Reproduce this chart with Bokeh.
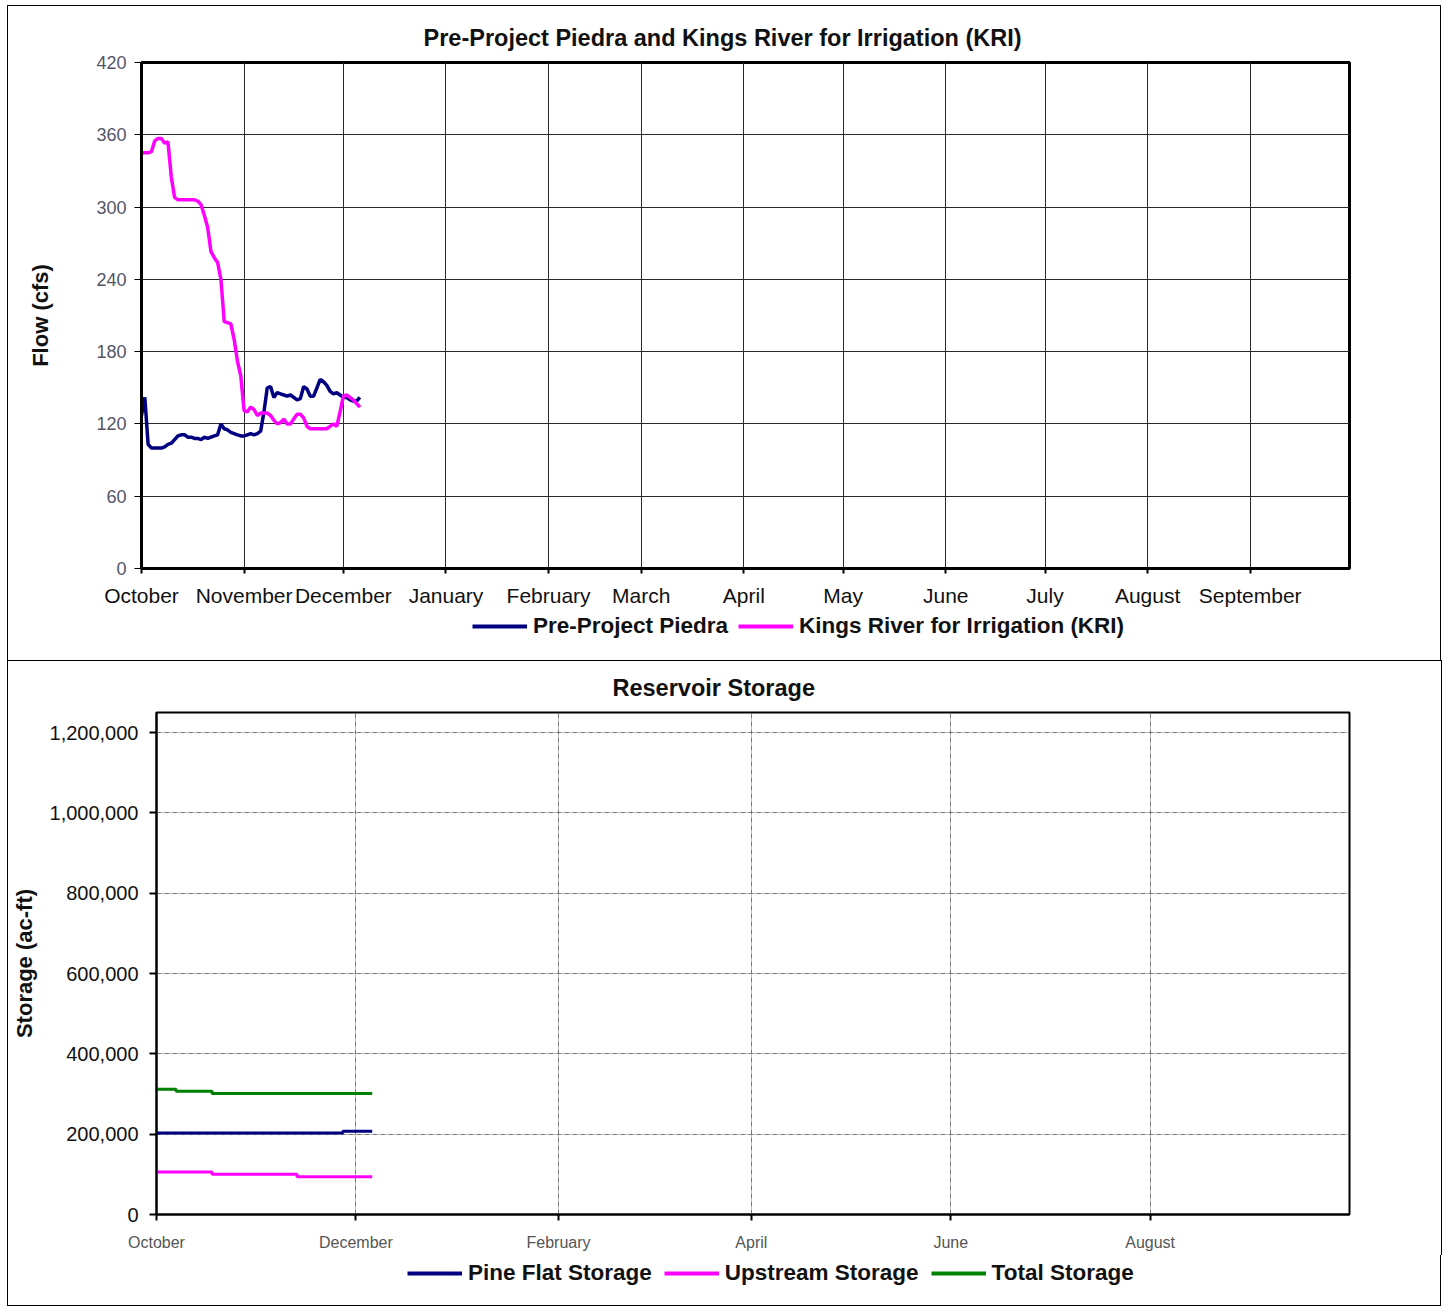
from bokeh.plotting import figure
from bokeh.models import Range1d, FixedTicker, Legend, LegendItem, NumeralTickFormatter
from bokeh.layouts import column
from bokeh.embed import file_html
from bokeh.resources import INLINE

# ---------------- data ----------------
month_names = ["October", "November", "December", "January", "February", "March",
               "April", "May", "June", "July", "August", "September"]
month_start_day = [0, 31, 61, 92, 123, 151, 182, 212, 243, 273, 304, 335]

flow_day = list(range(67))
piedra_cfs = [127, 142, 103, 100, 100, 100, 100, 101, 103, 104,
              107, 110, 111, 111, 109, 109, 108, 108, 107, 109,
              108, 109, 110, 111, 120, 116, 115, 113, 112, 111,
              110, 110, 111, 112, 111, 112, 114, 130, 150, 151,
              142, 146, 145, 144, 143, 144, 142, 140, 141, 151,
              149, 143, 143, 150, 157, 155, 152, 147, 145, 146,
              144, 142, 142, 140, 139, 139, 142]
kri_cfs = [345, 345, 345, 346, 355, 357, 357, 353, 354, 325,
           308, 306, 306, 306, 306, 306, 306, 305, 302, 293,
           283, 263, 258, 254, 240, 205, 204, 203, 190, 172,
           160, 131, 130, 134, 132, 127, 129, 129, 129, 127,
           123, 120, 121, 124, 120, 120, 124, 128, 128, 125,
           118, 116, 116, 116, 116, 116, 116, 118, 120, 118,
           130, 143, 144, 142, 140, 137, 134]

# storage: day on which each value starts, and the value (ac-ft)
pine_flat_day = [0, 57, 66]
pine_flat_af = [203000, 207000, 207000]
upstream_day = [0, 17, 43, 66]
upstream_af = [106000, 100000, 94000, 94000]
total_day = [0, 6, 17, 66]
total_af = [312000, 307000, 301000, 301000]

storage_tick_months = ["October", "December", "February", "April", "June", "August"]

NAVY = "#000080"
MAGENTA = "#FF00FF"
GREEN = "#008000"
FONT = "Liberation Sans"
BORDER = "1px solid black"
NAN = float("nan")


def legend_strip(height, items, loc, spacing, styles):
    """A small axis-less figure that only carries a horizontal legend."""
    lf = figure(frame_width=1432, frame_height=height, output_backend="svg",
                toolbar_location=None, x_axis_type=None, y_axis_type=None,
                x_range=Range1d(0, 1), y_range=Range1d(0, 1),
                min_border=0, min_border_left=0, min_border_right=0,
                min_border_top=0, min_border_bottom=0)
    lf.frame_align = False
    lf.outline_line_color = None
    lf.xgrid.visible = False
    lf.ygrid.visible = False
    leg_items = []
    for label, color in items:
        # one empty (NaN) row so the legend swatch gets its colour; nothing is drawn
        r = lf.line([NAN], [NAN], line_color=color, line_width=4)
        leg_items.append(LegendItem(label=label, renderers=[r]))
    leg = Legend(items=leg_items, orientation="horizontal", location=loc,
                 label_text_font=FONT, label_text_font_style="bold",
                 label_text_font_size="22.5px", label_text_color="#111111",
                 glyph_width=55, glyph_height=22, label_height=22,
                 label_standoff=6, spacing=spacing, padding=0, margin=0,
                 background_fill_alpha=0, border_line_color=None)
    lf.add_layout(leg, "center")
    lf.styles = styles
    return lf


# ---------------- top chart ----------------
p1 = figure(frame_width=1206, frame_height=505, output_backend="svg", toolbar_location=None,
            x_range=Range1d(0, 365), y_range=Range1d(0, 420),
            min_border_left=133, min_border_right=93, min_border_top=56, min_border_bottom=43)
p1.frame_align = False
p1.title.text = "Pre-Project Piedra and Kings River for Irrigation (KRI)"
p1.title.text_font = FONT
p1.title.text_font_size = "23.5px"
p1.title.text_font_style = "bold"
p1.title.text_color = "#111111"
p1.title.align = "left"
p1.title.offset = 282
p1.title.standoff = 24

p1.outline_line_color = "black"
p1.outline_line_width = 3
p1.xaxis.ticker = FixedTicker(ticks=month_start_day)
p1.xaxis.major_label_overrides = {d: n for d, n in zip(month_start_day, month_names)}
p1.xaxis.major_label_text_font = FONT
p1.xaxis.major_label_text_font_size = "21px"
p1.xaxis.major_label_text_color = "#111111"
p1.xaxis.major_label_standoff = 10
p1.xaxis.major_tick_out = 5
p1.xaxis.major_tick_in = 0
p1.xaxis.major_tick_line_width = 2
p1.xaxis.minor_tick_line_color = None
p1.xaxis.axis_line_width = 3

p1.yaxis.ticker = FixedTicker(ticks=[0, 60, 120, 180, 240, 300, 360, 420])
p1.yaxis.major_label_text_font = FONT
p1.yaxis.major_label_text_font_size = "18px"
p1.yaxis.major_label_text_color = "#555566"
p1.yaxis.major_label_standoff = 8
p1.yaxis.major_tick_out = 7
p1.yaxis.major_tick_in = 0
p1.yaxis.minor_tick_line_color = None
p1.yaxis.axis_line_width = 3
p1.yaxis.axis_label = "Flow (cfs)"
p1.yaxis.axis_label_text_font = FONT
p1.yaxis.axis_label_text_font_size = "22px"
p1.yaxis.axis_label_text_font_style = "bold"
p1.yaxis.axis_label_text_color = "#111111"
p1.yaxis.axis_label_standoff = 40

p1.xgrid.grid_line_color = "#2a2a2a"
p1.ygrid.grid_line_color = "#2a2a2a"
p1.xgrid.grid_line_width = 1
p1.ygrid.grid_line_width = 1

p1.line(flow_day, piedra_cfs, line_color=NAVY, line_width=3.5)
p1.line(flow_day, kri_cfs, line_color=MAGENTA, line_width=3.5)
p1.styles = {"border-top": BORDER, "border-left": BORDER, "border-right": BORDER}

leg1 = legend_strip(50, [("Pre-Project Piedra", NAVY),
                         ("Kings River for Irrigation (KRI)", MAGENTA)],
                    (464, 21), 10, {"border-left": BORDER, "border-right": BORDER})

# ---------------- bottom chart ----------------
p2 = figure(frame_width=1191, frame_height=501, output_backend="svg", toolbar_location=None,
            x_range=Range1d(0, 365), y_range=Range1d(0, 1250000),
            min_border_left=147, min_border_right=94, min_border_top=51, min_border_bottom=42)
p2.frame_align = False
p2.title.text = "Reservoir Storage"
p2.title.text_font = FONT
p2.title.text_font_size = "23.5px"
p2.title.text_font_style = "bold"
p2.title.text_color = "#111111"
p2.title.align = "left"
p2.title.offset = 456
p2.title.standoff = 23

p2.outline_line_color = "black"
p2.outline_line_width = 2
tick2 = [month_start_day[month_names.index(m)] for m in storage_tick_months]
p2.xaxis.ticker = FixedTicker(ticks=tick2)
p2.xaxis.major_label_overrides = {d: n for d, n in zip(tick2, storage_tick_months)}
p2.xaxis.major_label_text_font = FONT
p2.xaxis.major_label_text_font_size = "16px"
p2.xaxis.major_label_text_color = "#555555"
p2.xaxis.major_label_standoff = 13
p2.xaxis.major_tick_out = 6
p2.xaxis.major_tick_in = 0
p2.xaxis.major_tick_line_width = 2
p2.xaxis.minor_tick_line_color = None
p2.xaxis.axis_line_width = 2

p2.yaxis.ticker = FixedTicker(ticks=[0, 200000, 400000, 600000, 800000, 1000000, 1200000])
p2.yaxis.formatter = NumeralTickFormatter(format="0,0")
p2.yaxis.major_label_text_font = FONT
p2.yaxis.major_label_text_font_size = "20px"
p2.yaxis.major_label_text_color = "#111111"
p2.yaxis.major_label_standoff = 11
p2.yaxis.major_tick_out = 7
p2.yaxis.major_tick_in = 0
p2.yaxis.major_tick_line_width = 2
p2.yaxis.minor_tick_line_color = None
p2.yaxis.axis_line_width = 2
p2.yaxis.axis_label = "Storage (ac-ft)"
p2.yaxis.axis_label_text_font = FONT
p2.yaxis.axis_label_text_font_size = "22px"
p2.yaxis.axis_label_text_font_style = "bold"
p2.yaxis.axis_label_text_color = "#111111"
p2.yaxis.axis_label_standoff = 10

for g in (p2.xgrid, p2.ygrid):
    g.grid_line_color = "#777777"
    g.grid_line_width = 1
    g.grid_line_dash = "5 1 1 1"

p2.step(pine_flat_day, pine_flat_af, mode="after", line_color=NAVY, line_width=3)
p2.step(upstream_day, upstream_af, mode="after", line_color=MAGENTA, line_width=3)
p2.step(total_day, total_af, mode="after", line_color=GREEN, line_width=3)
p2.styles = {"border-top": BORDER, "border-left": BORDER, "border-right": BORDER}

leg2 = legend_strip(50, [("Pine Flat Storage", NAVY),
                         ("Upstream Storage", MAGENTA),
                         ("Total Storage", GREEN)],
                    (399, 20), 12,
                    {"border-left": BORDER, "border-right": BORDER, "border-bottom": BORDER})

layout = column(p1, leg1, p2, leg2, spacing=0, margin=(5, 0, 0, 7))
open("out.html", "w").write(file_html(layout, INLINE))
